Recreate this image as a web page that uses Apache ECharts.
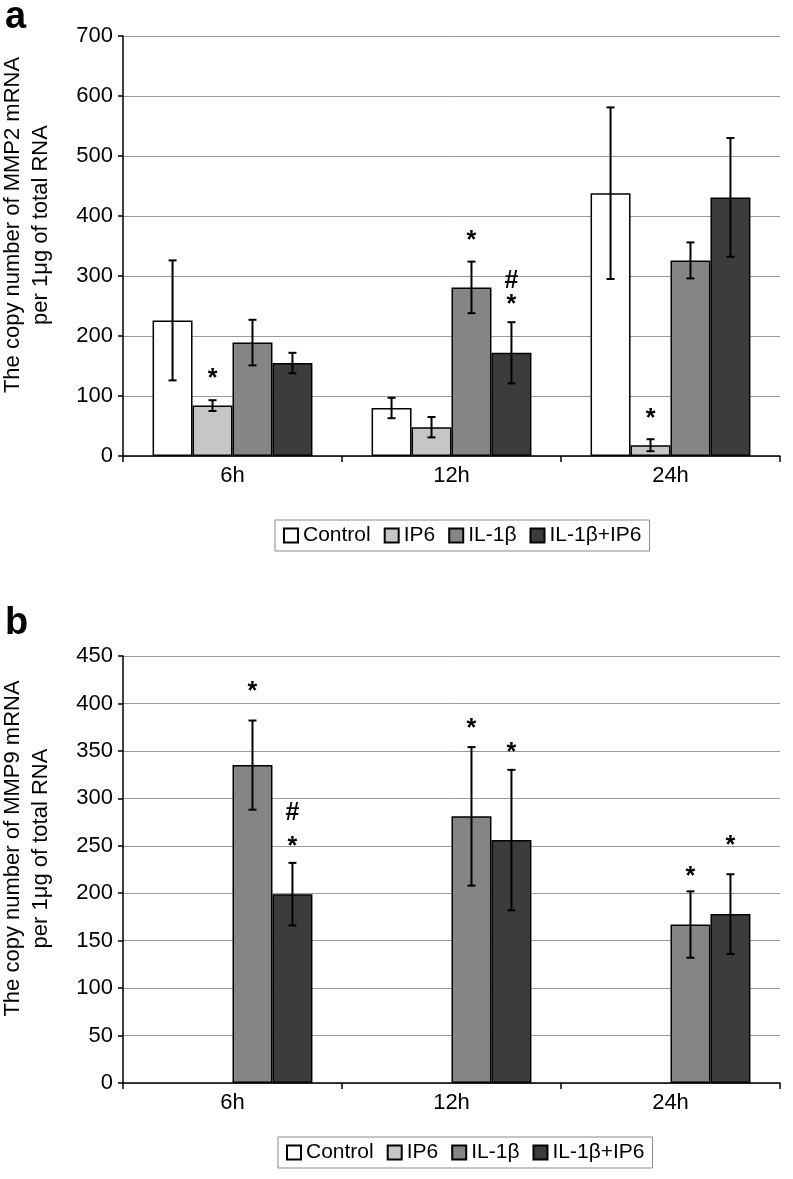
<!DOCTYPE html>
<html lang="en">
<head>
    <meta charset="UTF-8">
    <title>MMP2 / MMP9 mRNA</title>
    <script src="https://cdn.jsdelivr.net/npm/echarts@6/dist/echarts.min.js"></script>
    <style>
        html, body { margin: 0; padding: 0; background: #fff; }
        #main { width: 793px; height: 1179px; }
    </style>
</head>
<body>
<div id="main"></div>
<script>
    // categories and groups
    var categories = ['6h', '12h', '24h'];
    var groupNames = ['Control', 'IP6', 'IL-1β', 'IL-1β+IP6'];
    var groupColors = ['#ffffff', '#c6c6c6', '#858585', '#3c3c3c'];

    // panel a: MMP2
    var mmp2Control = [226, 80, 438];
    var mmp2IP6 = [84, 48, 18];
    var mmp2IL1b = [189, 281, 326];
    var mmp2Combo = [155, 172, 431];
    var mmp2ControlErr = [100, 17, 143];
    var mmp2IP6Err = [9, 17, 10];
    var mmp2IL1bErr = [38, 43, 30];
    var mmp2ComboErr = [17, 51, 99];
    var mmp2Ticks = [0, 700, 100];

    // panel b: MMP9 (Control and IP6 not detected)
    var mmp9Control = [null, null, null];
    var mmp9IP6 = [null, null, null];
    var mmp9IL1b = [335, 281, 167];
    var mmp9Combo = [199, 256, 178];
    var mmp9IL1bErr = [47, 73, 35];
    var mmp9ComboErr = [33, 74, 42];
    var mmp9Ticks = [0, 450, 50];

    // significance marks: [category, group, text, y value]
    var mmp2Marks = [[0, 1, '*', 128], [1, 2, '*', 358], [1, 3, '#', 292], [1, 3, '*', 251], [2, 1, '*', 61]];
    var mmp9Marks = [[0, 2, '*', 412], [0, 3, '#', 284], [0, 3, '*', 249], [1, 2, '*', 373],
        [1, 3, '*', 348], [2, 2, '*', 217], [2, 3, '*', 250]];

    var CAT_GAP = 0.27;
    var FONT = '"Liberation Sans", Arial, sans-serif';

    var chart = echarts.init(document.getElementById('main'));

    function groupOffset(bandWidth, g) {
        var inner = bandWidth * (1 - CAT_GAP);
        var w = inner / 4;
        return -inner / 2 + w * (g + 0.5);
    }

    function barSeries(name, idx, data, axis) {
        return {
            name: name,
            type: 'bar',
            xAxisIndex: axis,
            yAxisIndex: axis,
            data: data,
            barGap: '0%',
            barCategoryGap: (CAT_GAP * 100) + '%',
            itemStyle: { color: groupColors[idx], borderColor: '#000', borderWidth: 1.5 },
            emphasis: { disabled: true }
        };
    }

    function errorData(values, errs, g) {
        var out = [];
        for (var i = 0; i < values.length; i++) {
            if (values[i] != null) out.push([i, values[i], errs[i], g]);
        }
        return out;
    }

    function errorSeries(data, axis) {
        return {
            type: 'custom',
            xAxisIndex: axis,
            yAxisIndex: axis,
            data: data,
            encode: { x: 0, y: 1 },
            z: 5,
            silent: true,
            renderItem: function (params, api) {
                var cat = api.value(0), val = api.value(1), err = api.value(2), g = api.value(3);
                var band = api.size([1, 0])[0];
                var x = api.coord([cat, val])[0] + groupOffset(band, g);
                var yHi = api.coord([cat, val + err])[1];
                var yLo = api.coord([cat, val - err])[1];
                var cap = 4;
                var st = { stroke: '#000', lineWidth: 2 };
                return {
                    type: 'group',
                    children: [
                        { type: 'line', shape: { x1: x, y1: yHi, x2: x, y2: yLo }, style: st },
                        { type: 'line', shape: { x1: x - cap, y1: yHi, x2: x + cap, y2: yHi }, style: st },
                        { type: 'line', shape: { x1: x - cap, y1: yLo, x2: x + cap, y2: yLo }, style: st }
                    ]
                };
            }
        };
    }

    function markSeries(marks, axis) {
        return {
            type: 'custom',
            xAxisIndex: axis,
            yAxisIndex: axis,
            data: marks.map(function (m) { return [m[0], m[3], m[1]]; }),
            encode: { x: 0, y: 1 },
            z: 6,
            silent: true,
            renderItem: function (params, api) {
                var cat = api.value(0), val = api.value(1), g = api.value(2);
                var band = api.size([1, 0])[0];
                var p = api.coord([cat, val]);
                return {
                    type: 'text',
                    x: p[0] + groupOffset(band, g),
                    y: p[1],
                    style: {
                        text: marks[params.dataIndex][2],
                        fill: '#000',
                        font: 'bold 25px ' + FONT,
                        align: 'center',
                        verticalAlign: 'middle'
                    }
                };
            }
        };
    }

    function xAxisCfg(grid) {
        return {
            type: 'category',
            gridIndex: grid,
            data: categories,
            axisLine: { lineStyle: { color: '#000', width: 1.5 } },
            axisTick: { show: true, length: 6, lineStyle: { color: '#000', width: 1.5 } },
            axisLabel: { color: '#000', fontSize: 22, fontFamily: FONT, margin: 9 }
        };
    }

    function yAxisCfg(grid, ticks, title) {
        return {
            type: 'value',
            gridIndex: grid,
            min: ticks[0],
            max: ticks[1],
            interval: ticks[2],
            name: title,
            nameLocation: 'middle',
            nameGap: 68,
            nameTextStyle: { color: '#000', fontSize: 22, fontFamily: FONT, lineHeight: 28, padding: [0, 0, 0, 42] },
            axisLine: { show: true, lineStyle: { color: '#000', width: 1.5 } },
            axisTick: { show: true, length: 5, lineStyle: { color: '#000', width: 1.5 } },
            axisLabel: { color: '#000', fontSize: 22, fontFamily: FONT, margin: 10 },
            splitLine: { lineStyle: { color: '#9a9a9a', width: 1 } }
        };
    }

    function legendCfg(top, left) {
        return {
            data: groupNames,
            top: top,
            left: left,
            orient: 'horizontal',
            icon: 'rect',
            itemWidth: 14,
            itemHeight: 14,
            itemGap: 13,
            padding: [5, 8],
            borderColor: '#8a8a8a',
            borderWidth: 1,
            selectedMode: false,
            textStyle: { color: '#000', fontSize: 21, fontFamily: FONT }
        };
    }

    var option = {
        backgroundColor: '#fff',
        animation: false,
        title: [
            { text: 'a', left: 0, top: -6, textStyle: { fontSize: 38, fontWeight: 'bold', color: '#000', fontFamily: FONT } },
            { text: 'b', left: 0, top: 600, textStyle: { fontSize: 38, fontWeight: 'bold', color: '#000', fontFamily: FONT } }
        ],
        legend: [legendCfg(520, 275), legendCfg(1137, 278)],
        grid: [
            { left: 123, right: 13, top: 36, height: 420, outerBoundsMode: 'none' },
            { left: 123, right: 13, top: 656, height: 427, outerBoundsMode: 'none' }
        ],
        xAxis: [xAxisCfg(0), xAxisCfg(1)],
        yAxis: [
            yAxisCfg(0, mmp2Ticks, 'The copy number of MMP2 mRNA\nper 1μg of total RNA'),
            yAxisCfg(1, mmp9Ticks, 'The copy number of MMP9 mRNA\nper 1μg of total RNA')
        ],
        series: [
            barSeries(groupNames[0], 0, mmp2Control, 0),
            barSeries(groupNames[1], 1, mmp2IP6, 0),
            barSeries(groupNames[2], 2, mmp2IL1b, 0),
            barSeries(groupNames[3], 3, mmp2Combo, 0),
            errorSeries([].concat(
                errorData(mmp2Control, mmp2ControlErr, 0),
                errorData(mmp2IP6, mmp2IP6Err, 1),
                errorData(mmp2IL1b, mmp2IL1bErr, 2),
                errorData(mmp2Combo, mmp2ComboErr, 3)), 0),
            markSeries(mmp2Marks, 0),

            barSeries(groupNames[0], 0, mmp9Control, 1),
            barSeries(groupNames[1], 1, mmp9IP6, 1),
            barSeries(groupNames[2], 2, mmp9IL1b, 1),
            barSeries(groupNames[3], 3, mmp9Combo, 1),
            errorSeries([].concat(
                errorData(mmp9IL1b, mmp9IL1bErr, 2),
                errorData(mmp9Combo, mmp9ComboErr, 3)), 1),
            markSeries(mmp9Marks, 1)
        ]
    };
    chart.setOption(option);
</script>
</body>
</html>
